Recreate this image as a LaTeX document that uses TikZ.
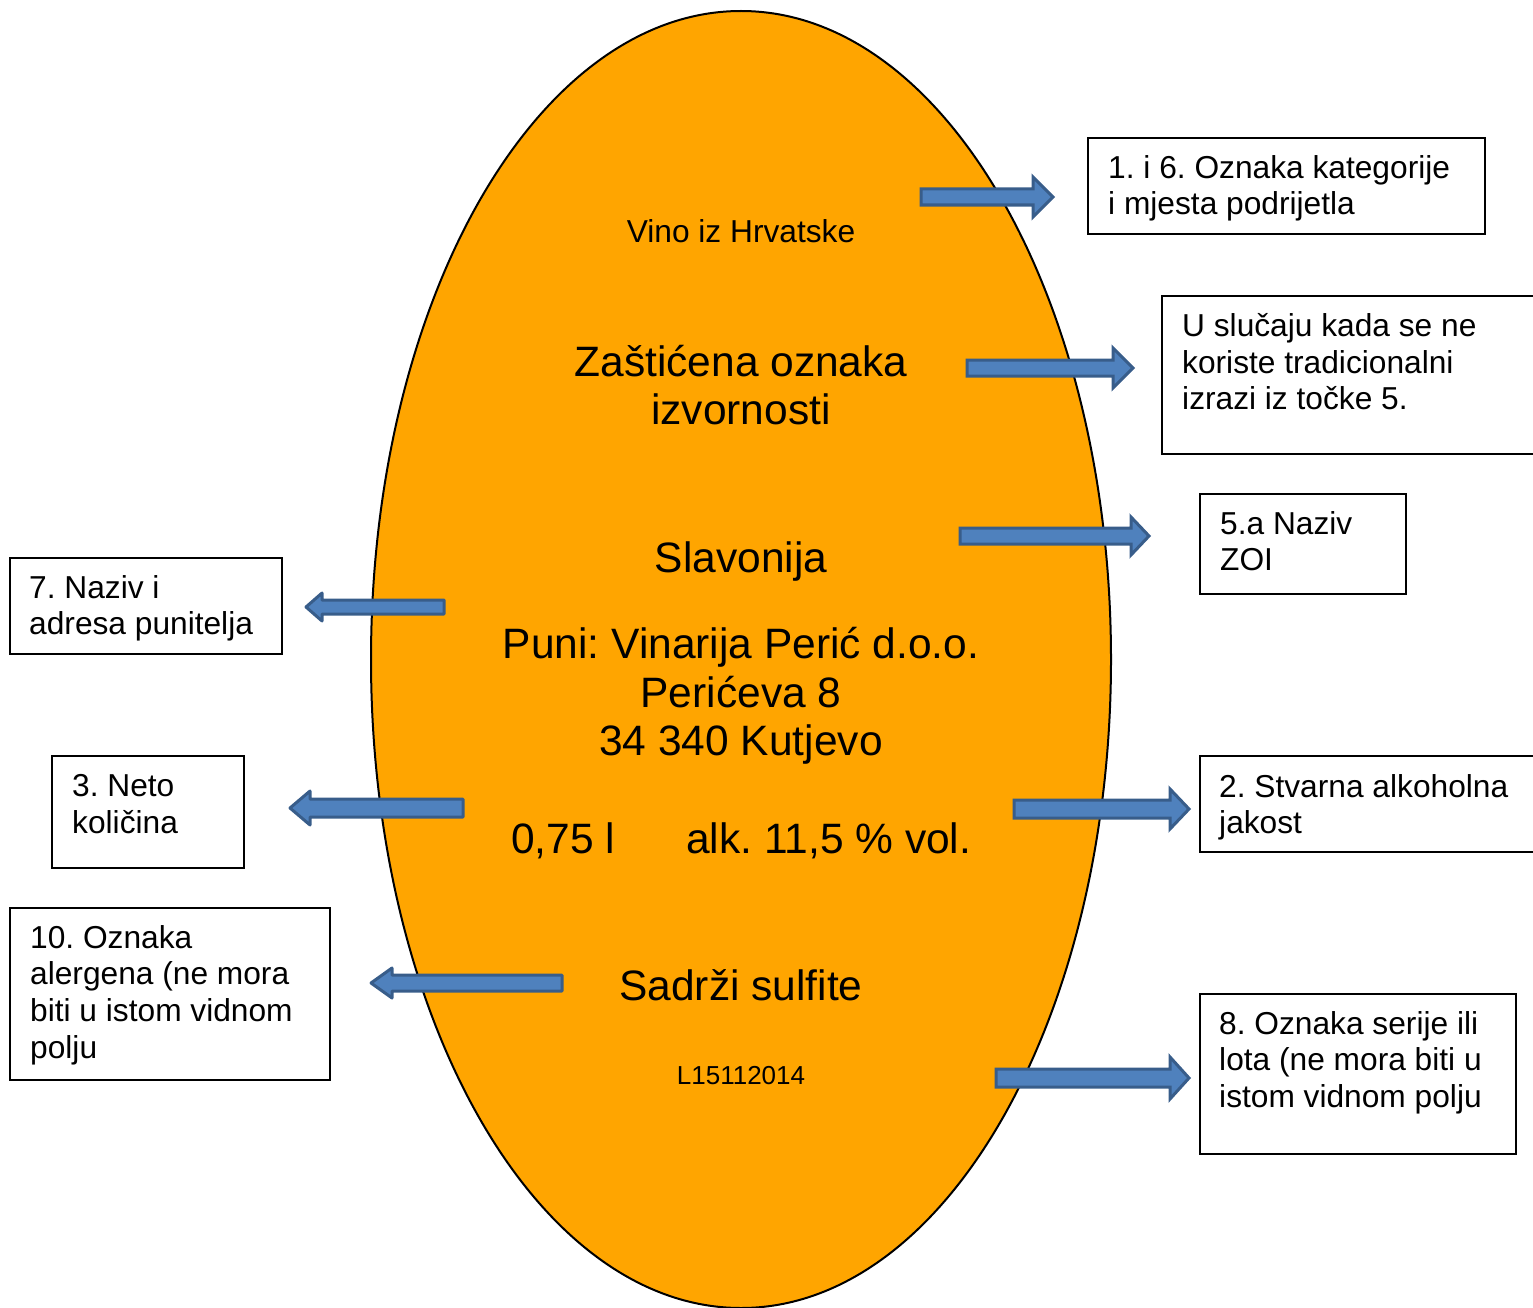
\documentclass[tikz,border=0pt]{standalone}
\usepackage{fontspec}
\setmainfont{Liberation Sans}
\frenchspacing
\definecolor{labelorange}{HTML}{FFA500}
\definecolor{arrowblue}{HTML}{4F81BD}
\definecolor{arrowedge}{HTML}{385D8A}
% block arrow: (tail x, y)(head base x : tip x : shaft half : head half)
\def\blockarrow[#1](#2,#3)(#4:#5:#6:#7){\draw[#1] (#2,#3-#6) -- (#4,#3-#6) -- (#4,#3-#7) -- (#5,#3) -- (#4,#3+#7) -- (#4,#3+#6) -- (#2,#3+#6) -- cycle;}
\tikzset{
	infobox/.style={draw=black, line width=1.6pt, inner sep=0pt, anchor=north west},
	boxtext/.style={anchor=north west, inner sep=0pt, align=left, font=\fontsize{31.7}{36.8}\selectfont},
	bigtext/.style={inner sep=0pt, align=center, font=\fontsize{42.5}{48.5}\selectfont},
	smalltext/.style={inner sep=0pt, font=\fontsize{31.7}{36.8}\selectfont},
	blockright/.style={fill=arrowblue, draw=arrowedge, line width=3pt, line join=miter},
	blockleft/.style={fill=arrowblue, draw=arrowedge, line width=3pt, line join=round}
}

\begin{document}
\begin{tikzpicture}[x=1pt, y=-1pt]
	\useasboundingbox (0,0) rectangle (1533,1308);
	\clip (0,0) rectangle (1533,1308);
	
	% the label
	\draw[fill=labelorange, line width=2pt] (741,659.5) ellipse [x radius=370, y radius=648.5];
	
	\node[smalltext, anchor=base] (vino) at (741,242.3) {Vino iz Hrvatske};
	\node[bigtext, anchor=north] (zoi) at (741,345) {Zaštićena oznaka\\izvornosti};
	\node[bigtext, anchor=base] (regija) at (741,572) {Slavonija};
	\node[bigtext, anchor=north] (punitelj) at (741,627) {Puni: Vinarija Perić d.o.o.\\Perićeva 8\\34 340 Kutjevo};
	\node[bigtext, anchor=base west] (volumen) at (511,853) {0,75 l};
	\node[bigtext, anchor=base west] (alkohol) at (686,853) {alk. 11,5 \% vol.};
	\node[bigtext, anchor=base] (sulfiti) at (741,1000) {Sadrži sulfite};
	\node[inner sep=0pt, anchor=base, font=\fontsize{26}{30}\selectfont] (lot) at (741,1084) {L15112014};
	
	% right side
	\node[infobox, minimum width=397pt, minimum height=96pt] (katBox) at (1087,137) {};
	\node[boxtext] (katText) at (1108,155) {1. i 6. Oznaka kategorije\\i mjesta podrijetla};
	
	\node[infobox, minimum width=400pt, minimum height=158pt] (tradBox) at (1161,295) {};
	\node[boxtext] (tradText) at (1182,313) {U slučaju kada se ne\\koriste tradicionalni\\izrazi iz točke 5.};
	
	\node[infobox, minimum width=206pt, minimum height=100pt] (zoiBox) at (1199,493) {};
	\node[boxtext] (zoiText) at (1220,511) {5.a Naziv\\ZOI};
	
	\node[infobox, minimum width=360pt, minimum height=96pt] (alkBox) at (1199,755) {};
	\node[boxtext] (alkText) at (1219,774) {2. Stvarna alkoholna\\jakost};
	
	\node[infobox, minimum width=316pt, minimum height=160pt] (lotBox) at (1199,993) {};
	\node[boxtext] (lotText) at (1219,1011) {8. Oznaka serije ili\\lota (ne mora biti u\\istom vidnom polju};
	
	% left side
	\node[infobox, minimum width=272pt, minimum height=96pt] (punBox) at (9,557) {};
	\node[boxtext] (punText) at (29,575) {7. Naziv i\\adresa punitelja};
	
	\node[infobox, minimum width=192pt, minimum height=112pt] (netoBox) at (51,755) {};
	\node[boxtext] (netoText) at (72,774) {3. Neto\\količina};
	
	\node[infobox, minimum width=320pt, minimum height=172pt] (alerBox) at (9,907) {};
	\node[boxtext] (alerText) at (30,925) {10. Oznaka\\alergena (ne mora\\biti u istom vidnom\\polju};
	
	% arrows
	\blockarrow[blockright](921,197)(1033:1053:8:20)
	\blockarrow[blockright](967,368)(1113:1133:8:20)
	\blockarrow[blockright](960,536)(1131:1149:8:19)
	\blockarrow[blockright](1014,809)(1170:1189:9:20)
	\blockarrow[blockright](996,1078)(1170:1189:9:21)
	\blockarrow[blockleft](444,607)(322:306:7:14)
	\blockarrow[blockleft](463,808)(310:290:9:17)
	\blockarrow[blockleft](562,983)(392:371:8:15)
\end{tikzpicture}
\end{document}
